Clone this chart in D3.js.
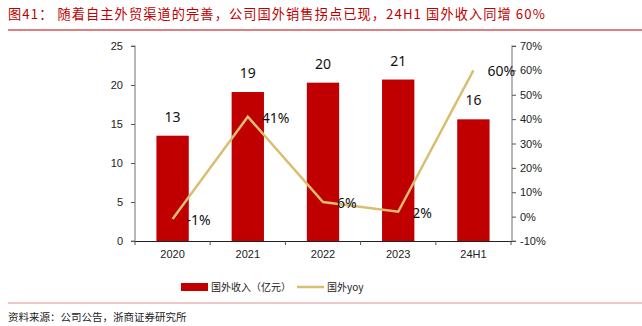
<!DOCTYPE html>
<html><head><meta charset="utf-8">
<script src="https://cdn.jsdelivr.net/npm/d3@7"></script>
<style>body{margin:0;background:#fff}svg{display:block}</style>
</head><body>
<svg id="c" width="642" height="326"></svg>
<script>
const categories = ["2020","2021","2022","2023","24H1"];
const revenue = [13.5, 19.1, 20.3, 20.7, 15.6];
const revenueLabels = ["13","19","20","21","16"];
const yoy = [-1, 41, 6, 2, 60];
const yoyLabels = ["-1%","41%","6%","2%","60%"];
const leftTicks = [0,5,10,15,20,25];
const rightTicks = [-10,0,10,20,30,40,50,60,70];

const svg = d3.select("#c");
const pTop = 46, pBottom = 241, pLeft = 135, pRight = 511;
const x = d3.scaleBand().domain(categories).range([pLeft, pRight]).paddingInner(0.57).paddingOuter(0.285);
const yL = d3.scaleLinear().domain([0,25]).range([pBottom, pTop]);
const yR = d3.scaleLinear().domain([-10,70]).range([pBottom, pTop]);
const red = "#C00000", gold = "#D9BE72";

// title
svg.append("text").attr("x",8).attr("y",19).attr("fill","#C00000")
  .attr("font-family","'Noto Sans CJK SC'").attr("font-size",13.2).attr("letter-spacing",1.1)
  .text("图41：  随着自主外贸渠道的完善，公司国外销售拐点已现，24H1 国外收入同增 60%");
svg.append("line").attr("x1",8).attr("x2",642).attr("y1",30).attr("y2",30).attr("stroke","#C00000").attr("stroke-width",1.2);

// bars
svg.selectAll("rect.bar").data(categories).join("rect").attr("class","bar")
  .attr("x",d=>x(d)).attr("width",x.bandwidth())
  .attr("y",(d,i)=>yL(revenue[i])).attr("height",(d,i)=>pBottom-yL(revenue[i])).attr("fill",red);

// axes
const axL = svg.append("g").attr("transform",`translate(${pLeft},0)`)
  .call(d3.axisLeft(yL).tickValues(leftTicks).tickSize(4).tickPadding(8));
const axR = svg.append("g").attr("transform",`translate(${pRight+1},0)`)
  .call(d3.axisRight(yR).tickValues(rightTicks).tickSize(4).tickPadding(4).tickFormat(d=>d+"%"));
[axL,axR].forEach(a=>{
  a.select(".domain").attr("stroke","#888").attr("stroke-width",1.2);
  a.selectAll(".tick line").attr("stroke","#555");
  a.selectAll("text").attr("font-family","'Liberation Sans', Arial").attr("font-size",11).attr("fill","#222");
});
axR.select(".domain").attr("d",`M4,${pTop}H0V${pBottom}H4`);
axL.select(".domain").attr("d",`M-4,${pTop}H0V${pBottom}H-4`);
const axB = svg.append("g").attr("transform",`translate(0,${pBottom})`)
  .call(d3.axisBottom(x).tickSize(0).tickPadding(9));
axB.select(".domain").attr("d",`M${pLeft},0.5H${pRight+1}`).attr("stroke","#222");
axB.selectAll("text").attr("font-family","'Liberation Sans', Arial").attr("font-size",11).attr("fill","#222");
// category separators
svg.selectAll("line.sep").data(d3.range(categories.length+1)).join("line").attr("class","sep")
  .attr("x1",i=>pLeft+i*x.step()).attr("x2",i=>pLeft+i*x.step())
  .attr("y1",pBottom).attr("y2",pBottom+4).attr("stroke","#555");

// line
const cx = d=>x(d)+x.bandwidth()/2;
svg.append("path").datum(categories)
  .attr("d",d3.line().x(cx).y((d,i)=>yR(yoy[i])))
  .attr("fill","none").attr("stroke",gold).attr("stroke-width",2.5);

// bar labels
svg.selectAll("text.bl").data(categories).join("text").attr("class","bl")
  .attr("x",cx).attr("y",(d,i)=>yL(revenue[i])-14).attr("text-anchor","middle")
  .attr("font-family","'Noto Sans', 'DejaVu Sans'").attr("font-size",14).attr("fill","#111")
  .text((d,i)=>revenueLabels[i]);
// line labels
svg.selectAll("text.ll").data(categories).join("text").attr("class","ll")
  .attr("x",d=>cx(d)+14).attr("y",(d,i)=>yR(yoy[i])+6)
  .attr("font-family","'Noto Sans', 'DejaVu Sans'").attr("font-size",14).attr("fill","#111")
  .text((d,i)=>yoyLabels[i]);

// legend
svg.append("rect").attr("x",181).attr("y",283).attr("width",27).attr("height",8).attr("fill",red);
svg.append("text").attr("x",211).attr("y",291).attr("font-family","'Noto Sans CJK SC'").attr("font-size",10).attr("fill","#222").text("国外收入（亿元）");
svg.append("line").attr("x1",297).attr("x2",324).attr("y1",287).attr("y2",287).attr("stroke",gold).attr("stroke-width",2.5);
svg.append("text").attr("x",327).attr("y",291).attr("font-family","'Noto Sans CJK SC'").attr("font-size",10).attr("fill","#222").text("国外yoy");

// footer
svg.append("line").attr("x1",8).attr("x2",642).attr("y1",303).attr("y2",303).attr("stroke","#E09090").attr("stroke-width",1.2);
svg.append("text").attr("x",8).attr("y",321).attr("font-family","'Noto Sans CJK SC'").attr("font-size",10.5).attr("fill","#222").text("资料来源：公司公告，浙商证券研究所");
</script>
</body></html>
